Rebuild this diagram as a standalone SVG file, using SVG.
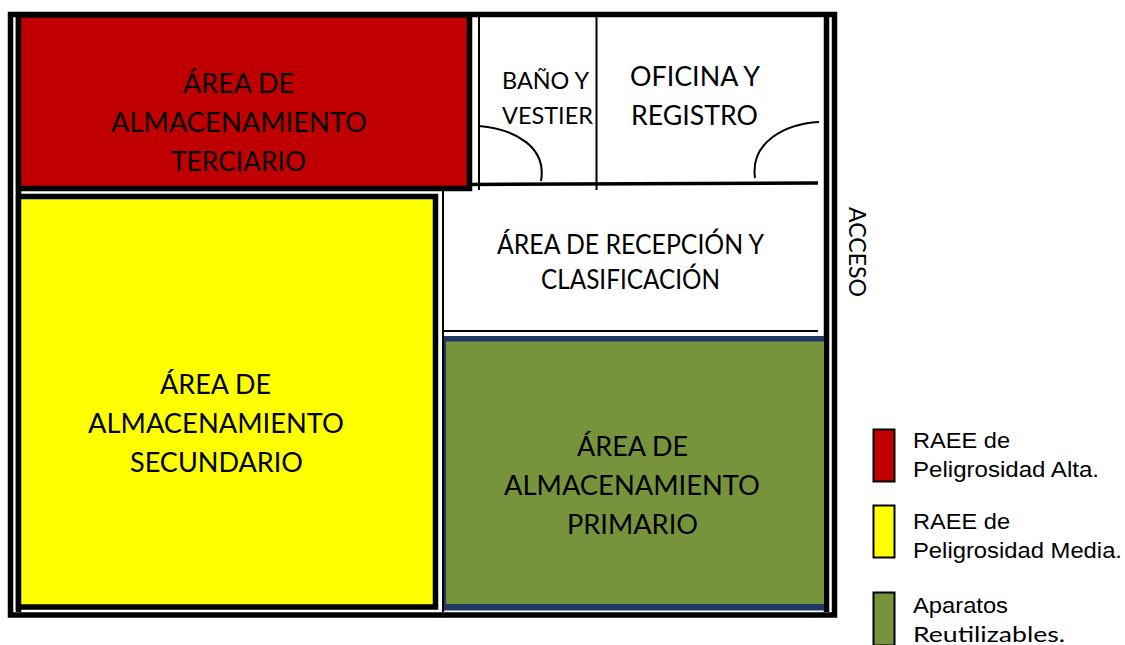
<svg xmlns="http://www.w3.org/2000/svg" width="1125" height="645" viewBox="0 0 1125 645">
<style>
text{font-family:"Lato","Open Sans",sans-serif;fill:#000;font-size:26px}
.b{font-size:23px}
text.c{font-size:22px;font-family:"Liberation Sans",Arial,sans-serif}
.w{fill:none;stroke:#000}
</style>
<rect width="1125" height="645" fill="#fff"/>
<g id="frame">
<rect x="10.500" y="14.500" width="824" height="600.500" fill="none" stroke="#000" stroke-width="5.500"/>
<path class="w" stroke-width="5.500" d="M18.500 12V612M826.500 12V612"/>
</g>
<g id="area-terciario">
<rect x="18.500" y="15" width="451" height="173.500" fill="#c00000" stroke="#000" stroke-width="5.500"/>
<text x="183" y="92.500" textLength="111" lengthAdjust="spacingAndGlyphs">ÁREA DE</text>
<text x="111" y="131.500" textLength="256" lengthAdjust="spacingAndGlyphs">ALMACENAMIENTO</text>
<text x="171" y="170.500" textLength="135" lengthAdjust="spacingAndGlyphs">TERCIARIO</text>
</g>
<g id="area-secundario">
<rect x="18.500" y="196.500" width="417" height="410.500" fill="#ff0" stroke="#000" stroke-width="5.500"/>
<text x="160" y="393.500" textLength="111" lengthAdjust="spacingAndGlyphs">ÁREA DE</text>
<text x="88" y="432.500" textLength="256" lengthAdjust="spacingAndGlyphs">ALMACENAMIENTO</text>
<text x="130" y="471.500" textLength="173" lengthAdjust="spacingAndGlyphs">SECUNDARIO</text>
</g>
<g id="area-primario">
<rect x="443" y="336" width="381" height="274.500" fill="#1f3864"/>
<rect x="446" y="341.500" width="378" height="262.500" fill="#77933c"/>
<text x="577" y="455.500" textLength="111" lengthAdjust="spacingAndGlyphs">ÁREA DE</text>
<text x="504" y="494.500" textLength="256" lengthAdjust="spacingAndGlyphs">ALMACENAMIENTO</text>
<text x="567" y="533.500" textLength="131" lengthAdjust="spacingAndGlyphs">PRIMARIO</text>
</g>
<g id="area-recepcion">
<text x="497" y="253.500" textLength="267" lengthAdjust="spacingAndGlyphs">ÁREA DE RECEPCIÓN Y</text>
<text x="541" y="288.500" textLength="179" lengthAdjust="spacingAndGlyphs">CLASIFICACIÓN</text>
</g>
<g id="bano">
<text class="b" x="502" y="89" textLength="87" lengthAdjust="spacingAndGlyphs">BAÑO Y</text>
<text class="b" x="502" y="124" textLength="91" lengthAdjust="spacingAndGlyphs">VESTIER</text>
</g>
<g id="oficina">
<text x="630" y="86" textLength="130" lengthAdjust="spacingAndGlyphs">OFICINA Y</text>
<text x="631" y="125" textLength="127" lengthAdjust="spacingAndGlyphs">REGISTRO</text>
</g>
<g id="walls">
<path class="w" stroke-width="2" d="M479 17V190M596.500 17V190M443 191V612M444 331H818"/>
<path class="w" stroke-width="3.500" d="M470 184.500L818 183"/>
<path class="w" stroke-width="2" d="M479 126C515 129 547 147 541 181M819 122C785 124 750 142 755 178"/>
</g>
<g id="acceso">
<text transform="translate(849 207) rotate(90)" style="font-size:23px" textLength="90" lengthAdjust="spacingAndGlyphs">ACCESO</text>
</g>
<g id="legend">
<rect x="873.500" y="429.500" width="21" height="52" fill="#c00000" stroke="#000" stroke-width="2"/>
<rect x="873.500" y="505.500" width="21" height="52" fill="#ff0" stroke="#000" stroke-width="2"/>
<rect x="873.500" y="592.500" width="21" height="53" fill="#77933c" stroke="#000" stroke-width="2"/>
<text class="c" x="913" y="448" textLength="97" lengthAdjust="spacingAndGlyphs">RAEE de</text>
<text class="c" x="913" y="477" textLength="186" lengthAdjust="spacingAndGlyphs">Peligrosidad Alta.</text>
<text class="c" x="913" y="529" textLength="97" lengthAdjust="spacingAndGlyphs">RAEE de</text>
<text class="c" x="913" y="558" textLength="209" lengthAdjust="spacingAndGlyphs">Peligrosidad Media.</text>
<text class="c" x="913" y="613" textLength="95" lengthAdjust="spacingAndGlyphs">Aparatos</text>
<text x="913" y="642" style="font-size:21px" textLength="152" lengthAdjust="spacingAndGlyphs">Reutilizables.</text>
</g>
</svg>
